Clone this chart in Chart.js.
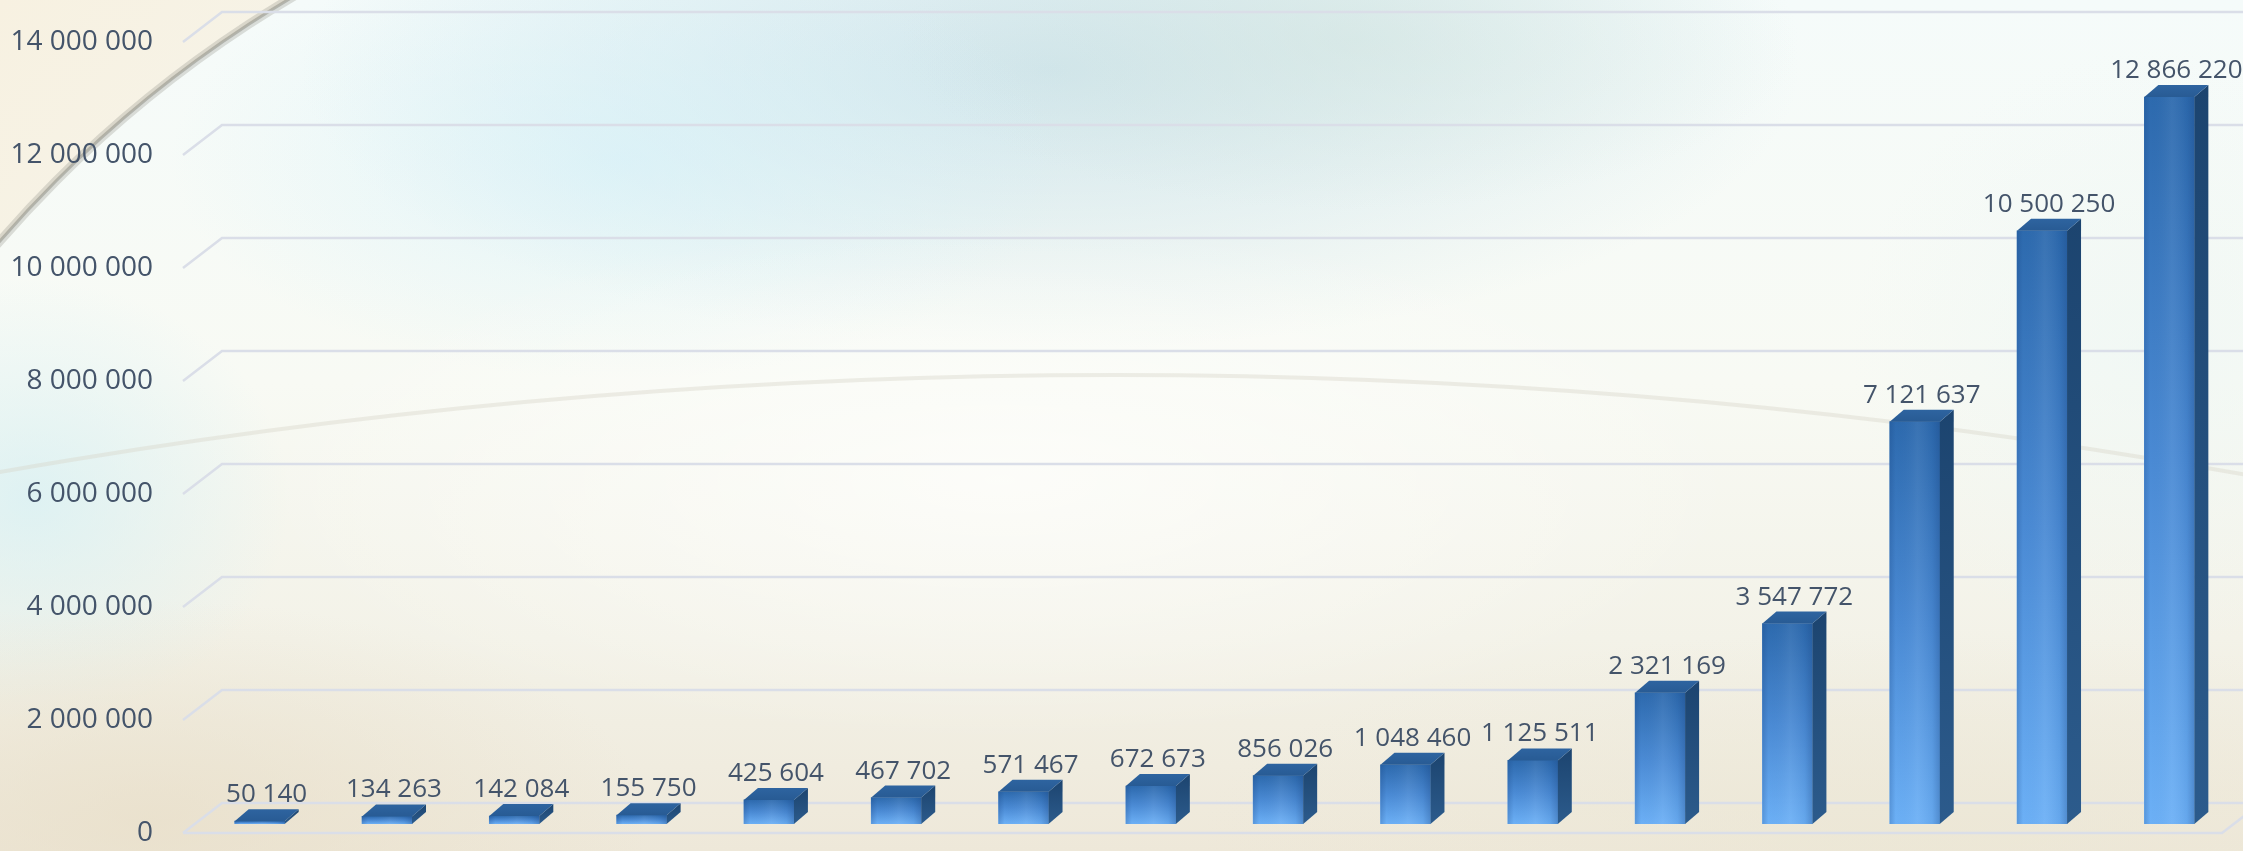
<!DOCTYPE html>
<html>
<head>
<meta charset="utf-8">
<script src="https://cdn.jsdelivr.net/npm/chart.js@4.4.0/dist/chart.umd.min.js"></script>
<style>
html,body{margin:0;padding:0;overflow:hidden;background:#f5f5ee}
#wrap{position:relative;width:2243px;height:851px}
canvas{display:block}
</style>
</head>
<body>
<div id="wrap"><canvas id="c" width="2243" height="851"></canvas></div>
<script>
// ---- data ----
const categories = ['1','2','3','4','5','6','7','8','9','10','11','12','13','14','15','16'];
const values = [50140, 134263, 142084, 155750, 425604, 467702, 571467, 672673, 856026, 1048460, 1125511, 2321169, 3547772, 7121637, 10500250, 12866220];
const yTicks = [0, 2000000, 4000000, 6000000, 8000000, 10000000, 12000000, 14000000];

const TEXT = '#44546a';
const DX = 14, DY = 12;          // bar depth
const FRONT_OFF = 9, BACK_OFF = 21; // floor planes relative to bar plane
const fmt = v => String(Math.round(v)).replace(/\B(?=(\d{3})+(?!\d))/g, ' ');

const bgPlugin = {
  id: 'bg',
  beforeDraw(chart) {
    const {ctx, width: W, height: H} = chart;
    ctx.save();
    let g = ctx.createLinearGradient(0, 0, 0, H);
    g.addColorStop(0, '#f5fbfa');
    g.addColorStop(0.45, '#f8faf4');
    g.addColorStop(0.75, '#f3f2e8');
    g.addColorStop(1, '#eee8d9');
    ctx.fillStyle = g; ctx.fillRect(0, 0, W, H);

    function blob(cx, cy, rx, ry, color) {
      ctx.save();
      ctx.translate(cx, cy); ctx.scale(rx / 100, ry / 100);
      const rg = ctx.createRadialGradient(0, 0, 0, 0, 0, 100);
      rg.addColorStop(0, color);
      rg.addColorStop(1, color.replace(/[\d.]+\)$/, '0)'));
      ctx.fillStyle = rg;
      ctx.beginPath(); ctx.arc(0, 0, 100, 0, Math.PI * 2); ctx.fill();
      ctx.restore();
    }
    blob(1050, 70, 750, 280, 'rgba(185,216,227,0.6)');
    blob(620, 160, 450, 220, 'rgba(208,240,250,0.55)');
    blob(1350, 40, 450, 170, 'rgba(205,225,218,0.45)');
    blob(30, 500, 260, 220, 'rgba(214,240,244,0.75)');
    blob(1000, 480, 750, 260, 'rgba(255,255,253,0.7)');
    blob(150, 820, 500, 220, 'rgba(232,222,200,0.7)');
    blob(1900, 830, 700, 200, 'rgba(235,230,212,0.6)');
    blob(2150, 350, 300, 300, 'rgba(236,246,244,0.6)');

    // top-left cream corner outside big arc
    const cx = 905, cy = 1029, r = 1200;
    ctx.save();
    ctx.beginPath(); ctx.rect(0, 0, W, H);
    ctx.arc(cx, cy, r, 0, Math.PI * 2, true);
    ctx.clip('evenodd');
    let cg = ctx.createLinearGradient(0, 0, 300, 260);
    cg.addColorStop(0, '#f7f1e1'); cg.addColorStop(1, '#f6f4ea');
    ctx.fillStyle = cg; ctx.fillRect(0, 0, 400, 400);
    ctx.restore();
    // grey arc
    ctx.save();
    ctx.strokeStyle = 'rgba(150,150,140,0.3)'; ctx.lineWidth = 9;
    ctx.beginPath(); ctx.arc(cx, cy, r, Math.PI * 1.0, Math.PI * 1.5); ctx.stroke();
    ctx.strokeStyle = 'rgba(140,140,130,0.5)'; ctx.lineWidth = 3;
    ctx.beginPath(); ctx.arc(cx, cy, r, Math.PI * 1.0, Math.PI * 1.5); ctx.stroke();
    ctx.restore();
    // faint middle arc
    ctx.save();
    ctx.strokeStyle = 'rgba(215,212,200,0.4)'; ctx.lineWidth = 4;
    ctx.beginPath(); ctx.arc(1115, 375 + 6460, 6460, Math.PI * 1.3, Math.PI * 1.7); ctx.stroke();
    ctx.restore();
    ctx.restore();
  },
  beforeDatasetsDraw(chart) {
    const {ctx, scales: {y}, chartArea} = chart;
    const xf = chartArea.left - 13, xb = xf + 39;
    ctx.save();
    ctx.strokeStyle = '#dadee8'; ctx.lineWidth = 2.5;
    yTicks.forEach(v => {
      const yp = y.getPixelForValue(v);
      ctx.beginPath();
      ctx.moveTo(xf, yp + FRONT_OFF);
      ctx.lineTo(xb, yp - BACK_OFF);
      ctx.lineTo(chart.width + 5, yp - BACK_OFF);
      ctx.stroke();
    });
    const y0 = y.getPixelForValue(0);
    ctx.beginPath();
    ctx.moveTo(xf, y0 + FRONT_OFF);
    ctx.lineTo(chartArea.right - 11, y0 + FRONT_OFF);
    ctx.lineTo(chartArea.right + 28, y0 - BACK_OFF);
    ctx.stroke();
    ctx.restore();
  }
};

const barPlugin = {
  id: 'bars3d',
  afterDatasetsDraw(chart) {
    const {ctx} = chart;
    const meta = chart.getDatasetMeta(0);
    ctx.save();
    meta.data.forEach((bar, i) => {
      const {x, y, base, width} = bar.getProps(['x', 'y', 'base', 'width'], true);
      const l = x - width / 2, r = x + width / 2;
      // front horizontal shading overlay
      const hg = ctx.createLinearGradient(l, 0, r, 0);
      hg.addColorStop(0, 'rgba(20,60,120,0.22)');
      hg.addColorStop(0.12, 'rgba(20,60,120,0.0)');
      hg.addColorStop(0.55, 'rgba(255,255,255,0.06)');
      hg.addColorStop(0.85, 'rgba(20,60,120,0.08)');
      hg.addColorStop(1, 'rgba(20,60,120,0.3)');
      ctx.fillStyle = hg;
      ctx.fillRect(l, y, width, base - y);
      // side face
      const sg = ctx.createLinearGradient(0, y - DY, 0, base);
      sg.addColorStop(0, '#1c446f');
      sg.addColorStop(1, '#2c5b8c');
      ctx.fillStyle = sg;
      ctx.beginPath();
      ctx.moveTo(r, y); ctx.lineTo(r + DX, y - DY); ctx.lineTo(r + DX, base - DY); ctx.lineTo(r, base);
      ctx.closePath(); ctx.fill();
      // top face
      const tg = ctx.createLinearGradient(0, y, 0, y - DY);
      tg.addColorStop(0, '#285b94');
      tg.addColorStop(1, '#2e64a0');
      ctx.fillStyle = tg;
      ctx.beginPath();
      ctx.moveTo(l, y); ctx.lineTo(l + DX, y - DY); ctx.lineTo(r + DX, y - DY); ctx.lineTo(r, y);
      ctx.closePath(); ctx.fill();
      // value label
      ctx.fillStyle = TEXT;
      ctx.font = '26px "Open Sans"';
      ctx.textAlign = 'center';
      ctx.textBaseline = 'alphabetic';
      ctx.fillText(fmt(values[i]), x + DX / 2, y - DY - 7);
    });
    ctx.restore();
  }
};

new Chart(document.getElementById('c'), {
  type: 'bar',
  data: {
    labels: categories,
    datasets: [{
      data: values,
      borderWidth: 0,
      barThickness: 50,
      backgroundColor: (c) => {
        const chart = c.chart;
        const {ctx, chartArea, scales} = chart;
        if (!chartArea || c.type !== 'data') return '#3f80cc';
        const top = scales.y.getPixelForValue(c.raw);
        const base = scales.y.getPixelForValue(0);
        const g = ctx.createLinearGradient(0, top, 0, Math.max(base, top + 1));
        g.addColorStop(0, '#2d6aae');
        g.addColorStop(0.5, '#4a8ad4');
        g.addColorStop(1, '#6cb0f6');
        return g;
      }
    }]
  },
  options: {
    responsive: false,
    animation: false,
    layout: {padding: {top: 33, bottom: 27, left: 0, right: 10}},
    plugins: {legend: {display: false}, tooltip: {enabled: false}},
    scales: {
      x: {display: false, offset: true, grid: {display: false}},
      y: {
        min: 0, max: 14000000,
        afterBuildTicks: s => { s.ticks = yTicks.map(v => ({value: v})); },
        afterFit: s => { s.width = 196; s.paddingTop = 0; s.paddingBottom = 0; },
        grid: {display: false, drawTicks: false},
        border: {display: false},
        ticks: {
          padding: 43, labelOffset: 9, color: TEXT,
          font: {family: 'Open Sans', size: 28},
          callback: v => fmt(v)
        }
      }
    }
  },
  plugins: [bgPlugin, barPlugin]
});
</script>
</body>
</html>
